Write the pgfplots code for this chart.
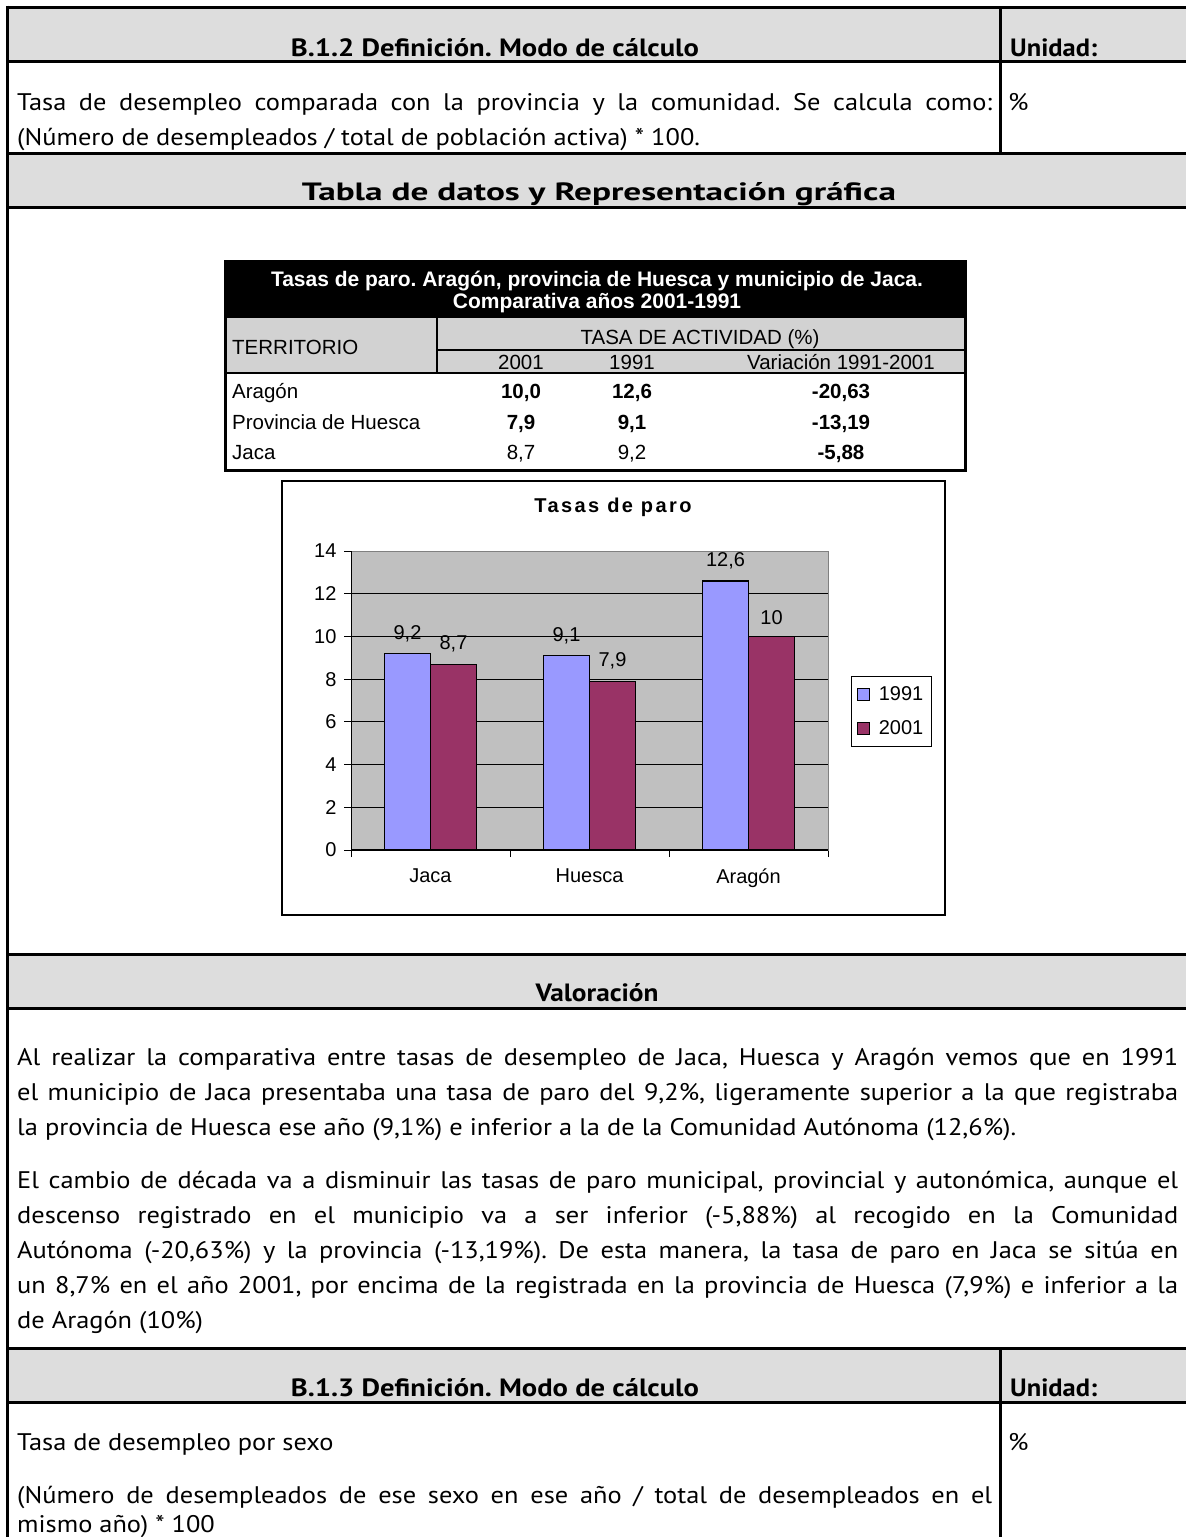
\documentclass[border=0pt]{standalone}
\usepackage{fontspec}
\usepackage{graphicx}
\usepackage{pgfplots}
\pgfplotsset{compat=1.18}
\setmainfont{PT Sans}[FakeStretch=1.1]
\newfontfamily\hdrfont{PT Sans}
\newfontfamily\arial{Liberation Sans}
\newfontfamily\arialsp{Liberation Sans}[LetterSpace=12]
\frenchspacing

\definecolor{hdrgray}{RGB}{221,221,221}
\definecolor{tabgray}{RGB}{210,210,210}
\definecolor{plotgray}{RGB}{192,192,192}
\definecolor{c1991}{RGB}{153,153,255}
\definecolor{c2001}{RGB}{153,51,102}

\newcommand\body{\fontsize{24}{28}\selectfont}
\newcommand\hdr{\hdrfont\fontsize{25}{29}\selectfont\bfseries}
\newcommand\tab{\arial\fontsize{20.5}{24}\selectfont}
\newsavebox\jbox
% justified line: stretch the spaces, or squeeze if too long
\newcommand\jline[2]{\sbox\jbox{#2}%
  \ifdim\wd\jbox>#1\relax\resizebox{#1}{\height}{#2}\else\makebox[#1][s]{#2}\fi}
\newcommand\fitw[2]{\resizebox{#1}{\height}{#2}}

\begin{document}
\begin{tikzpicture}
\begin{scope}[x=1pt,y=-1pt]
\fill[white] (0,0) rectangle (1186,1537);
\useasboundingbox (0,0) rectangle (1186,1537);

% ---- page frame: header rows
\fill[hdrgray] (7,7) rectangle (1186,61);
\fill[hdrgray] (7,153) rectangle (1186,207);
\fill[hdrgray] (7,954) rectangle (1186,1008);
\fill[hdrgray] (7,1348) rectangle (1186,1402);
\begin{scope}[line width=3pt]
\draw (7,7) -- (1186,7);
\draw (7,61) -- (1186,61);
\draw (7,153) -- (1186,153);
\draw (7,207) -- (1186,207);
\draw (7,954) -- (1186,954);
\draw (7,1008) -- (1186,1008);
\draw (7,1348) -- (1186,1348);
\draw (7,1402) -- (1186,1402);
\draw (7,5.5) -- (7,1540);
\draw (1000,7) -- (1000,153);
\draw (1000,1348) -- (1000,1540);
\end{scope}

% ---- headers
\node[anchor=base, inner sep=0pt, font=\hdr] at (495,56) {\fitw{408pt}{B.1.2 Definición. Modo de cálculo}};
\node[anchor=base west, inner sep=0pt, font=\hdr] at (1010,56) {\fitw{87pt}{Unidad:}};
\node[anchor=base, inner sep=0pt, font=\hdr] at (599,200) {\fitw{594pt}{Tabla de datos y Representación gráfica}};
\node[anchor=base, inner sep=0pt, font=\hdr] at (597,1001) {\fitw{123pt}{Valoración}};
\node[anchor=base, inner sep=0pt, font=\hdr] at (495,1396) {\fitw{408pt}{B.1.3 Definición. Modo de cálculo}};
\node[anchor=base west, inner sep=0pt, font=\hdr] at (1010,1396) {\fitw{87pt}{Unidad:}};

% ---- body text
\begin{scope}[every node/.style={anchor=base west, inner sep=0pt, font=\body}]
\node at (17,110) {\jline{975pt}{Tasa de desempleo comparada con la provincia y la comunidad. Se calcula como:}};
\node at (17,145) {(Número de desempleados / total de población activa) * 100.};
\node at (1008,110) {\%};
\node at (17,1065) {\jline{1161pt}{Al realizar la comparativa entre tasas de desempleo de Jaca, Huesca y Aragón vemos que en 1991}};
\node at (17,1100) {\jline{1161pt}{el municipio de Jaca presentaba una tasa de paro del 9,2\%, ligeramente superior a la que registraba}};
\node at (17,1135) {la provincia de Huesca ese año (9,1\%) e inferior a la de la Comunidad Autónoma (12,6\%).};
\node at (17,1188) {\jline{1161pt}{El cambio de década va a disminuir las tasas de paro municipal, provincial y autonómica, aunque el}};
\node at (17,1223) {\jline{1161pt}{descenso registrado en el municipio va a ser inferior (-5,88\%) al recogido en la Comunidad}};
\node at (17,1258) {\jline{1161pt}{Autónoma (-20,63\%) y la provincia (-13,19\%). De esta manera, la tasa de paro en Jaca se sitúa en}};
\node at (17,1293) {\jline{1161pt}{un 8,7\% en el año 2001, por encima de la registrada en la provincia de Huesca (7,9\%) e inferior a la}};
\node at (17,1328) {de Aragón (10\%)};
\node at (17,1450) {Tasa de desempleo por sexo};
\node at (1008,1450) {\%};
\node at (17,1503) {\jline{975pt}{(Número de desempleados de ese sexo en ese año / total de desempleados en el}};
\node at (17,1532) {mismo año) * 100};
\end{scope}

% ---- data table
\fill[black] (225,261) rectangle (965,318);
\fill[tabgray] (225,318) rectangle (965,373);
\draw[line width=1.5pt] (437,318) -- (437,373);
\draw[line width=1.5pt] (437,350) -- (965,350);
\draw[line width=2pt] (225,373) -- (965,373);
\draw[line width=3pt] (225,261) rectangle (965,470);
\begin{scope}[every node/.style={inner sep=0pt, font=\tab}]
\node[anchor=base, text=white, font=\arial\fontsize{21}{25}\selectfont\bfseries] at (597,286) {Tasas de paro. Aragón, provincia de Huesca y municipio de Jaca.};
\node[anchor=base, text=white, font=\arial\fontsize{21}{25}\selectfont\bfseries] at (597,308) {Comparativa años 2001-1991};
\node[anchor=base west] at (232,354) {TERRITORIO};
\node[anchor=base] at (700,344) {TASA DE ACTIVIDAD (\%)};
\node[anchor=base] at (521,369) {2001};
\node[anchor=base] at (632,369) {1991};
\node[anchor=base] at (841,369) {Variación 1991-2001};
\node[anchor=base west] at (232,398) {Aragón};
\node[anchor=base west] at (232,429) {Provincia de Huesca};
\node[anchor=base west] at (232,459) {Jaca};
\node[anchor=base, font=\tab\bfseries] at (521,398) {10,0};
\node[anchor=base, font=\tab\bfseries] at (632,398) {12,6};
\node[anchor=base, font=\tab\bfseries] at (841,398) {-20,63};
\node[anchor=base, font=\tab\bfseries] at (521,429) {7,9};
\node[anchor=base, font=\tab\bfseries] at (632,429) {9,1};
\node[anchor=base, font=\tab\bfseries] at (841,429) {-13,19};
\node[anchor=base] at (521,459) {8,7};
\node[anchor=base] at (632,459) {9,2};
\node[anchor=base, font=\tab\bfseries] at (841,459) {-5,88};
\end{scope}

% ---- chart frame and title
\draw[line width=1.5pt] (282,481) rectangle (945,915);
\node[font=\arialsp\bfseries\fontsize{20}{23}\selectfont] at (613,507) {Tasas de paro};
\end{scope}

\begin{axis}[
  at={(351pt,-850pt)}, anchor=south west,
  scale only axis, width=477pt, height=299pt,
  xmin=-0.5, xmax=2.5, ymin=0, ymax=14,
  ytick={0,2,...,14},
  xtick={-0.5,0.5,1.5,2.5}, xticklabels={,,,},
  extra x ticks={0,1,2}, extra x tick labels={Jaca,Huesca,Aragón},
  extra x tick style={major tick length=0pt, grid=none,
    tick label style={yshift=-15pt}},
  tick align=outside, tick pos=left, major tick length=7pt,
  tick style={black, line width=1pt},
  yticklabel style={xshift=-4pt},
  ymajorgrids, grid style={black, line width=0.8pt},
  axis background/.style={fill=plotgray},
  axis line style={draw=gray, line width=1pt},
  ybar=0pt, bar width=46pt,
  /pgf/number format/use comma,
  /pgf/number format/assume math mode=true,
  ticklabel style={font=\arial\fontsize{20}{24}\selectfont},
  nodes near coords,
  every node near coord/.append style={font=\arial\fontsize{20}{24}\selectfont, black, yshift=8pt},
  legend style={at={(1.048,0.582)}, anchor=north west, draw=black, line width=0.8pt,
    font=\arial\fontsize{20}{24}\selectfont, inner xsep=6pt, inner ysep=8pt,
    row sep=15pt},
  legend cell align=left,
]
\addplot[fill=c1991, draw=black, line width=1.2pt,
  legend image code/.code={\draw[fill=c1991, draw=black, line width=1pt] (0pt,-6pt) rectangle (12pt,6pt);
    \path[draw=none, fill=none] (12pt,-0.1pt) rectangle (19pt,0.1pt);}]
  coordinates {(0,9.2) (1,9.1) (2,12.6)};
\addlegendentry{1991}
\addplot[fill=c2001, draw=black, line width=1.2pt,
  legend image code/.code={\draw[fill=c2001, draw=black, line width=1pt] (0pt,-6pt) rectangle (12pt,6pt);
    \path[draw=none, fill=none] (12pt,-0.1pt) rectangle (19pt,0.1pt);}]
  coordinates {(0,8.7) (1,7.9) (2,10)};
\addlegendentry{2001}
\draw[gray, line width=1pt] (rel axis cs:0,1) -- (rel axis cs:1,1) -- (rel axis cs:1,0);
\draw[black, line width=1.2pt] (rel axis cs:0,1) -- (rel axis cs:0,0) -- (rel axis cs:1,0);
\end{axis}
\end{tikzpicture}
\end{document}
